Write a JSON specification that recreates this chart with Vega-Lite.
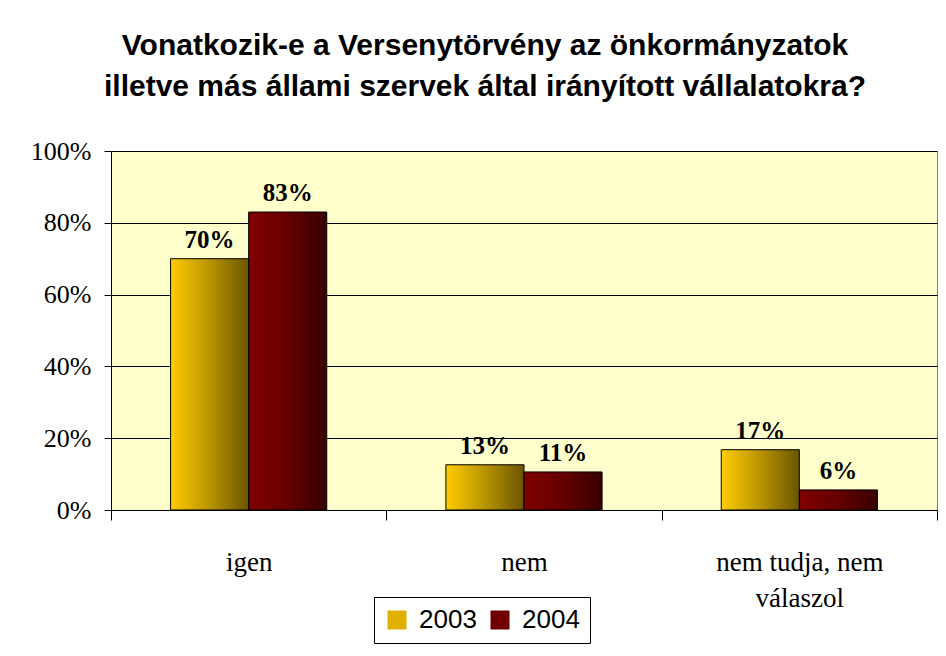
{
  "$schema": "https://vega.github.io/schema/vega-lite/v6.json",
  "autosize": "none",
  "width": 826,
  "height": 359,
  "padding": {"left": 111, "top": 151, "right": 9, "bottom": 146},
  "background": "white",
  "title": {
    "text": ["Vonatkozik-e a Versenytörvény az önkormányzatok", "illetve más állami szervek által irányított vállalatokra?"],
    "font": "Liberation Sans",
    "fontSize": 30,
    "fontWeight": "bold",
    "lineHeight": 41,
    "color": "black",
    "anchor": "middle",
    "dx": -39,
    "offset": 36
  },
  "data": {
    "values": [
      {"cat": "igen", "year": "2003", "value": 0.70},
      {"cat": "igen", "year": "2004", "value": 0.83},
      {"cat": "nem", "year": "2003", "value": 0.126},
      {"cat": "nem", "year": "2004", "value": 0.106},
      {"cat": "nem tudja, nem válaszol", "year": "2003", "value": 0.168},
      {"cat": "nem tudja, nem válaszol", "year": "2004", "value": 0.056}
    ]
  },
  "encoding": {
    "x": {
      "field": "cat", "type": "nominal", "sort": null,
      "scale": {"paddingInner": 0, "paddingOuter": 0},
      "axis": {
        "title": null, "labelAngle": 0, "tickBand": "extent",
        "labelFont": "Liberation Serif", "labelFontSize": 27, "labelColor": "black",
        "labelPadding": 29, "labelLineHeight": 36, "labelBaseline": "top",
        "labelExpr": "datum.value == 'nem tudja, nem válaszol' ? ['nem tudja, nem', 'válaszol'] : datum.value",
        "domainColor": "black", "tickColor": "black", "tickSize": 10, "grid": false
      }
    },
    "xOffset": {"field": "year", "type": "nominal", "sort": ["2003", "2004"], "scale": {"paddingInner": 0, "paddingOuter": 0.763}},
    "y": {
      "field": "value", "type": "quantitative",
      "scale": {"domain": [0, 1]},
      "axis": {
        "title": null, "format": ".0%", "values": [0, 0.2, 0.4, 0.6, 0.8, 1],
        "labelFont": "Liberation Serif", "labelFontSize": 26, "labelColor": "black", "labelPadding": 13,
        "domainColor": "black", "tickColor": "black", "tickSize": 7,
        "grid": true, "gridColor": "black", "gridOpacity": 1
      }
    }
  },
  "layer": [
    {
      "transform": [{"filter": "datum.year == '2003'"}],
      "mark": {"type": "bar", "stroke": "black", "strokeWidth": 1,
        "fill": {"gradient": "linear", "x1": 0, "y1": 0, "x2": 1, "y2": 0, "stops": [{"offset": 0, "color": "#FFCC00"}, {"offset": 0.5, "color": "#B89400"}, {"offset": 1, "color": "#6B5500"}]}}
    },
    {
      "transform": [{"filter": "datum.year == '2004'"}],
      "mark": {"type": "bar", "stroke": "black", "strokeWidth": 1,
        "fill": {"gradient": "linear", "x1": 0, "y1": 0, "x2": 1, "y2": 0, "stops": [{"offset": 0, "color": "#800000"}, {"offset": 0.5, "color": "#660000"}, {"offset": 1, "color": "#380000"}]}}
    },
    {
      "mark": {"type": "text", "baseline": "bottom", "dy": -6, "font": "Liberation Serif", "fontSize": 25, "fontWeight": "bold", "color": "black"},
      "encoding": {
        "text": {"field": "value", "type": "quantitative", "format": ".0%"}
      }
    },
    {
      "mark": {"type": "square", "opacity": 0, "size": 1},
      "encoding": {
        "fill": {
          "field": "year", "type": "nominal",
          "scale": {"range": ["#E0B000", "#700000"]},
          "legend": {
            "title": null, "orient": "none", "legendX": 263, "legendY": 446, "direction": "horizontal",
            "symbolType": "square", "symbolSize": 361, "symbolStrokeColor": "black", "symbolStrokeWidth": 1, "symbolOpacity": 1,
            "labelFont": "Liberation Sans", "labelFontSize": 26, "labelColor": "black",
            "strokeColor": "black", "fillColor": "white", "padding": 10, "columnPadding": 10, "labelOffset": 9,
            "encode": {
              "symbols": {
                "update": {
                  "fill": {"signal": "datum.value === '2003' ? {gradient: 'linear', x1: 0, y1: 0, x2: 1, y2: 0, stops: [{offset: 0, color: '#FFCC00'}, {offset: 0.5, color: '#B89400'}, {offset: 1, color: '#6B5500'}]} : {gradient: 'linear', x1: 0, y1: 0, x2: 1, y2: 0, stops: [{offset: 0, color: '#800000'}, {offset: 0.5, color: '#660000'}, {offset: 1, color: '#380000'}]}"},
                  "opacity": {"value": 1}
                }
              }
            }
          }
        }
      }
    }
  ],
  "config": {
    "view": {"fill": "#FFFFCC", "stroke": "#808080", "strokeWidth": 1}
  }
}
